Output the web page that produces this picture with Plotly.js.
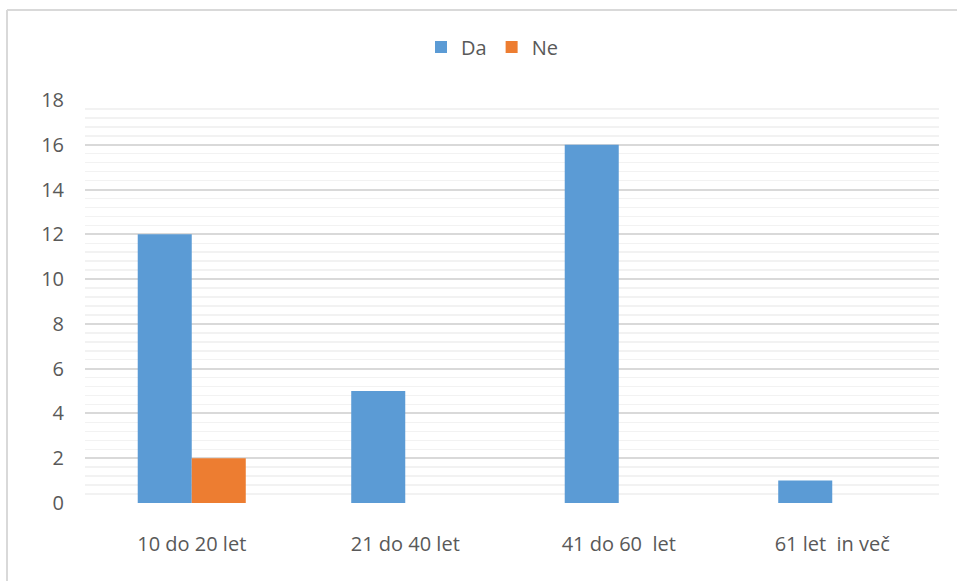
<!DOCTYPE html>
<html>
<head>
<meta charset="utf-8">
<script src="https://cdn.plot.ly/plotly-3.0.1.min.js"></script>
<style>
html,body{margin:0;padding:0;background:#fff;}
#chart{width:957px;height:581px;}
</style>
</head>
<body>
<div id="chart"></div>
<script>
const categories = ["10 do 20 let", "21 do 40 let", "41 do 60  let", "61 let  in več"];
const seriesNames = ["Da", "Ne"];
const daValues = [12, 5, 16, 1];
const neValues = [2, 0, 0, 0];
const yTicks = [0, 2, 4, 6, 8, 10, 12, 14, 16, 18];

const W = 957, H = 581;
const L = 85, R = 18, T = 100, B = 78;
const pw = W - L - R, ph = H - T - B;
const px = v => (v - L) / pw;
const py = v => (H - B - v) / ph;

const font = {family: "Open Sans, Lato, sans-serif", size: 20, color: "#595959"};

const traces = [
  {type: "bar", name: seriesNames[0], x: categories, y: daValues,
   marker: {color: "#5B9BD5", line: {width: 0}}},
  {type: "bar", name: seriesNames[1], x: categories, y: neValues,
   marker: {color: "#ED7D31", line: {width: 0}}}
];

const layout = {
  width: W, height: H,
  margin: {l: L, r: R, t: T, b: B},
  paper_bgcolor: "#ffffff", plot_bgcolor: "#ffffff",
  font: font,
  barmode: "group", bargap: 0.494, bargroupgap: 0,
  showlegend: true,
  legend: {orientation: "h", x: px(492), xanchor: "center", y: py(47), yanchor: "middle",
           font: font, itemwidth: 30, traceorder: "normal"},
  xaxis: {type: "category", showgrid: false, zeroline: false, showline: false,
          ticks: "", ticklabelstandoff: 27, tickfont: font, fixedrange: true},
  yaxis: {range: [0, 18], tickvals: yTicks, ticktext: yTicks.map(String),
          showgrid: true, gridcolor: "#d9d9d9", gridwidth: 2,
          minor: {dtick: 0.4, showgrid: true, gridcolor: "#f2f2f2", gridwidth: 1.5, ticks: ""},
          zeroline: false, showline: false, ticks: "", ticklabelstandoff: 20,
          tickfont: font, fixedrange: true},
  shapes: [
    {type: "line", xref: "paper", yref: "paper", x0: px(7), x1: px(7), y0: py(10), y1: py(590),
     line: {color: "#d9d9d9", width: 2}},
    {type: "line", xref: "paper", yref: "paper", x0: px(7), x1: px(960), y0: py(10), y1: py(10),
     line: {color: "#d9d9d9", width: 2}}
  ]
};

Plotly.newPlot("chart", traces, layout, {displayModeBar: false, staticPlot: true});
</script>
</body>
</html>
